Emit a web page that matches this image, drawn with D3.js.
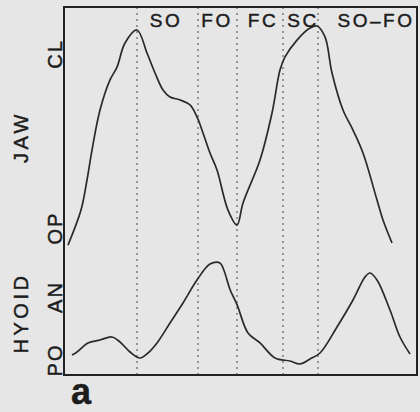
<!DOCTYPE html>
<html><head><meta charset="utf-8">
<script src="https://cdn.jsdelivr.net/npm/d3@7"></script>
<style>
html,body{margin:0;padding:0;background:#e6e6e6;}
svg{display:block;}
text{font-family:"Liberation Sans",Arial,sans-serif;fill:#1c1c1c;stroke:#1c1c1c;stroke-width:0.45px;}
</style></head>
<body><svg id="c" width="420" height="412"></svg>
<script>
// time (arbitrary units) and traces
const jawT = [3,16,22,27,35,45,52,60,72,82,90,98,105,115,125,132,138,145,152,163,172,178,195,207,215,220,232,245,252,260,267,278,288,298,312,318,327];
const jawV = [-9.8,10.3,27.6,44.8,67.8,85.1,92.5,106.3,113.8,100.6,89.1,79.3,75.3,73.6,70.7,63.8,54.6,43.1,33.3,10.3,1.7,14.4,39.1,66.1,90.8,98.3,108,114.9,116.1,109.8,89.1,67.8,56.3,43.1,16.1,4.6,-8.6];
const hyoT = [7,12,23,35,47,55,65,75,83,92,105,118,132,145,155,159,165,172,183,195,210,225,235,245,255,272,288,300,305,312,325,335,345];
const hyoV = [7.9,12.7,27,31.7,36.5,28.6,12.7,3.2,11.1,27,58.7,90.5,127,152.4,154,142,112,88,42.9,27,3.2,-1.6,-6.3,1.6,11.1,52.4,95.2,131.7,138.1,127,79.4,36.5,9.5];
// event markers
const eventT = [72,133,172,218,253];
const phaseNames = ["SO","FO","FC","SC","SO\u2013FO"];
const phaseT = [101,152,198,238,311];
// y labels
const jawTickNames = ["OP","CL"];
const jawTickVals = [0,100];
const hyoTickNames = ["PO","AN"];
const hyoTickVals = [0,100];
const panelNames = ["JAW","HYOID"];
const panelLetter = "a";

const svg = d3.select("#c");
const L=64, R=417, T=7, B=375;
const x = d3.scaleLinear().domain([0,352]).range([65,417]);
const yJ = d3.scaleLinear().domain([0,100]).range([228,54]);
const yH = d3.scaleLinear().domain([0,100]).range([360,297]);

// event dotted lines
svg.selectAll("line.ev").data(eventT).enter().append("line")
  .attr("x1",d=>x(d)).attr("x2",d=>x(d)).attr("y1",T).attr("y2",B)
  .attr("stroke","#555").attr("stroke-width",1.1).attr("stroke-dasharray","2,4");

// frame
svg.append("rect").attr("x",L).attr("y",T).attr("width",R-L).attr("height",B-T)
  .attr("fill","none").attr("stroke","#222").attr("stroke-width",2);

const line = d3.line().curve(d3.curveCatmullRom.alpha(0.5));
const jawPts = jawT.map((t,i)=>[x(t),yJ(jawV[i])]);
const hyoPts = hyoT.map((t,i)=>[x(t),yH(hyoV[i])]);
svg.append("path").attr("d",line(jawPts)).attr("fill","none").attr("stroke","#2a2a2a").attr("stroke-width",1.7);
svg.append("path").attr("d",line(hyoPts)).attr("fill","none").attr("stroke","#2a2a2a").attr("stroke-width",1.7);

// phase labels
svg.selectAll("text.ph").data(phaseNames).enter().append("text")
  .attr("x",(d,i)=>x(phaseT[i])).attr("y",27).attr("text-anchor","middle")
  .attr("font-size",19).attr("letter-spacing",2.5).text(d=>d);

// tick labels (rotated)
function rot(name,xp,yp,size,ls){
  svg.append("text").attr("transform",`translate(${xp},${yp}) rotate(-90)`)
    .attr("text-anchor","middle").attr("font-size",size).attr("letter-spacing",ls).text(name);
}
jawTickNames.forEach((n,i)=>rot(n,62,yJ(jawTickVals[i]),20,2));
hyoTickNames.forEach((n,i)=>rot(n,62,yH(hyoTickVals[i]),20,2));
rot(panelNames[0],28,137,20,3.5);
rot(panelNames[1],28,313,20,3.5);

svg.append("text").attr("x",71).attr("y",404).attr("font-size",36).attr("font-weight","bold").text(panelLetter);
</script></body></html>
